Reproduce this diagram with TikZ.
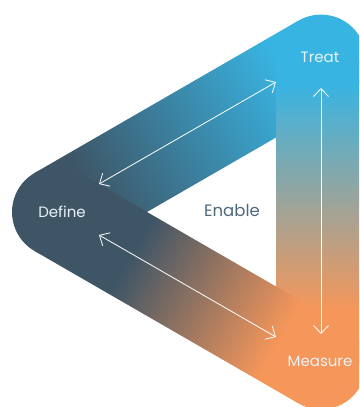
\documentclass[tikz,border=0pt]{standalone}
\usepackage{fontspec}
\setmainfont{Poppins}
\usetikzlibrary{arrows.meta}
\definecolor{cDark}{RGB}{62,85,102}
\definecolor{cBlue}{RGB}{56,180,226}
\definecolor{cOrange}{RGB}{245,150,90}
\definecolor{cEnable}{RGB}{78,104,124}
\definecolor{cLabel}{RGB}{236,242,246}
\pgfdeclarehorizontalshading{upS}{100bp}{color(0bp)=(cDark); color(31bp)=(cDark); color(69bp)=(cBlue); color(100bp)=(cBlue)}
\pgfdeclarehorizontalshading{rightS}{100bp}{color(0bp)=(cBlue); color(29bp)=(cBlue); color(66bp)=(cOrange); color(100bp)=(cOrange)}
\pgfdeclarehorizontalshading{lowS}{100bp}{color(0bp)=(cDark); color(39bp)=(cDark); color(67bp)=(cOrange); color(100bp)=(cOrange)}
\begin{document}
\begin{tikzpicture}[x=1pt,y=1pt,
  lbl/.style={text=cLabel, font=\fontsize{15}{17}\selectfont},
  dblarrow/.style={draw=white, line width=0.8pt, {Straight Barb[length=8pt,width=15pt]}-{Straight Barb[length=8pt,width=15pt]}}]
\useasboundingbox (0,0) rectangle (359,-407);
\clip (0,0) rectangle (359,-407);
\coordinate (D) at (57,-212);
\coordinate (T) at (321,-59.6);
\coordinate (M) at (321,-364.4);
% corners
\fill[cDark] (D) circle (45);
\fill[cBlue] (T) circle (45);
\fill[cOrange] (M) circle (45);
% bands
\begin{scope}[transform canvas={shift={(57pt,-212pt)},rotate=30}]
  \shade[shading=upS] (0pt,-45pt) rectangle (304.8pt,45pt);
\end{scope}
\begin{scope}[transform canvas={shift={(321pt,-59.6pt)},rotate=-90}]
  \shade[shading=rightS] (0pt,-45pt) rectangle (304.8pt,45pt);
\end{scope}
\begin{scope}[transform canvas={shift={(57pt,-212pt)},rotate=-30}]
  \shade[shading=lowS] (0pt,-45pt) rectangle (304.8pt,45pt);
\end{scope}
% labels
\node[lbl] (treat) at (320,-57) {Treat};
\node[lbl] (define) at (62,-212) {Define};
\node[lbl] (measure) at (320,-361) {Measure};
\node[text=cEnable, font=\fontsize{16.5}{18}\selectfont] (enable) at (232,-210) {Enable};
% arrows
\coordinate (u1) at (99,-184);
\coordinate (u2) at (276,-82);
\coordinate (l1) at (99,-235);
\coordinate (l2) at (276,-337);
\coordinate (r1) at (321,-88);
\coordinate (r2) at (321,-334);
\draw[dblarrow] (u1) -- (u2);
\draw[dblarrow] (l1) -- (l2);
\draw[dblarrow] (r1) -- (r2);
\end{tikzpicture}
\end{document}
